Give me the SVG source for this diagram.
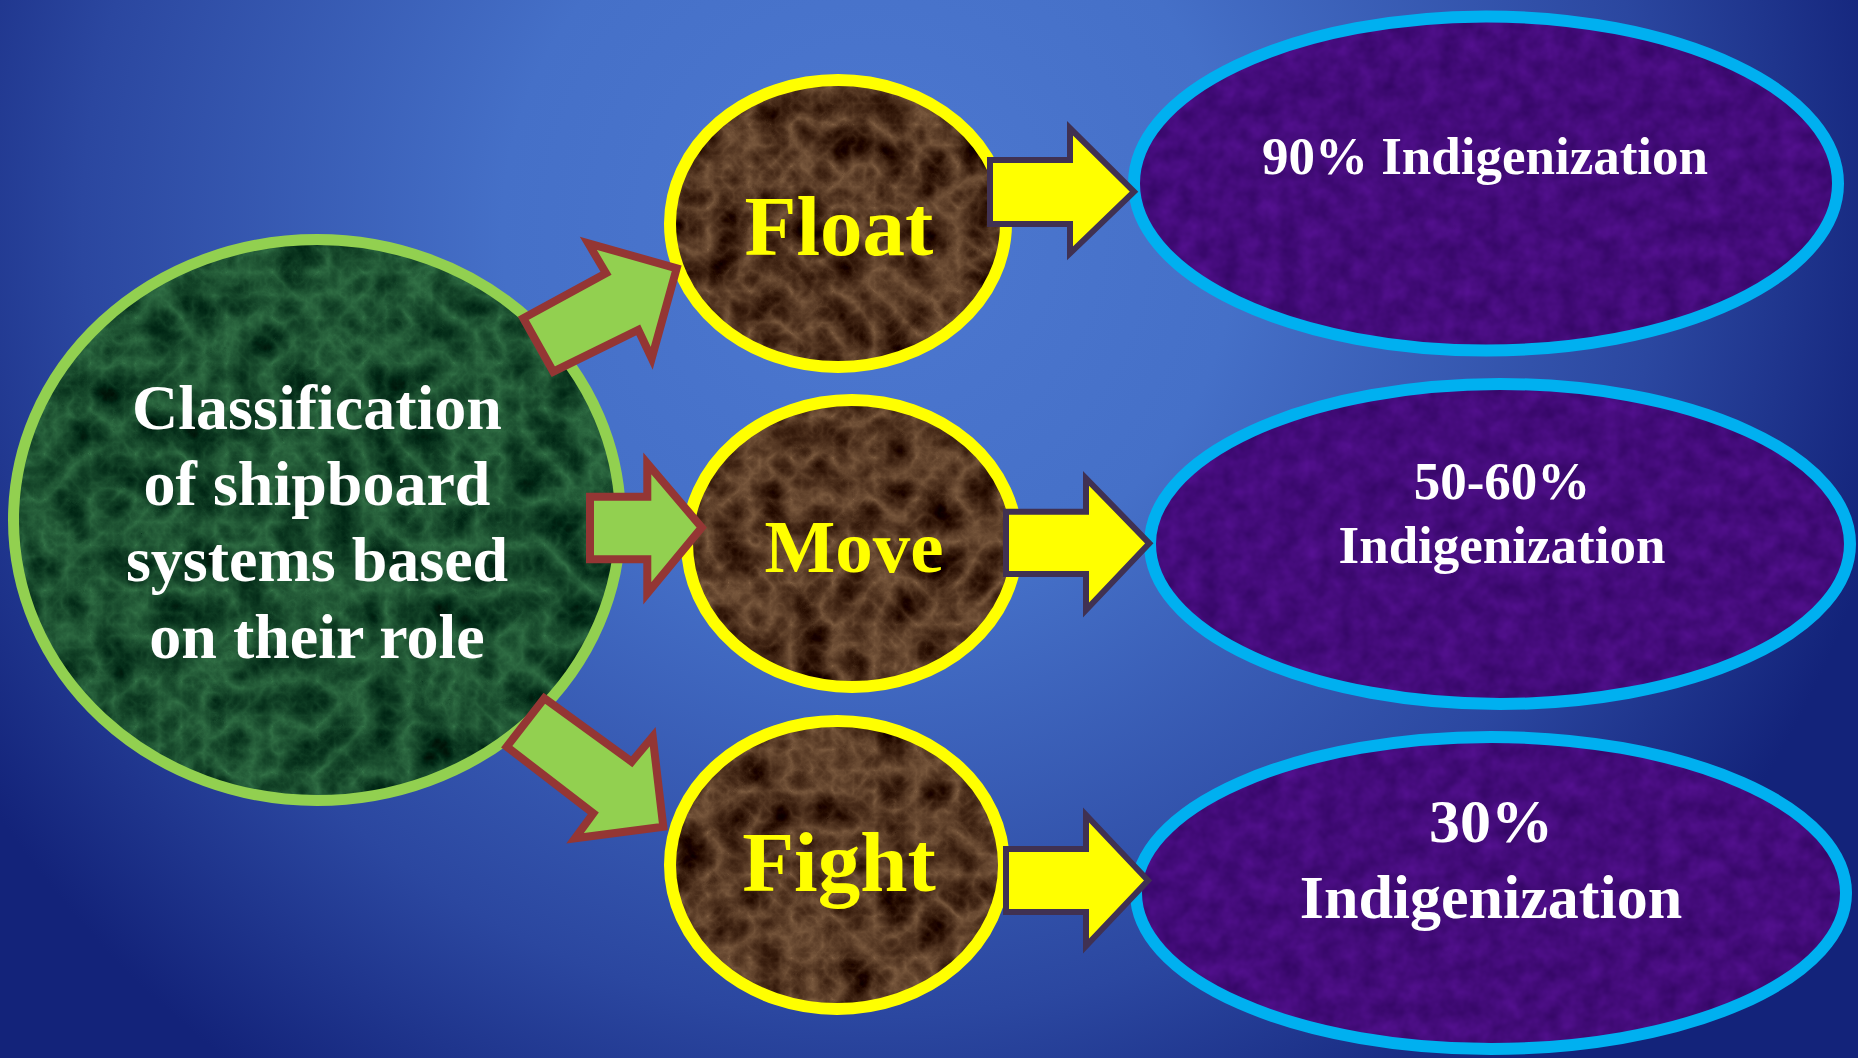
<svg xmlns="http://www.w3.org/2000/svg" width="1858" height="1058" viewBox="0 0 1858 1058">
<defs>
<radialGradient id="bg" gradientUnits="userSpaceOnUse" cx="870" cy="230" r="1050">
<stop offset="0" stop-color="#4D78D0"/>
<stop offset="0.35" stop-color="#4570C8"/>
<stop offset="0.75" stop-color="#2B47A0"/>
<stop offset="1" stop-color="#13237A"/>
</radialGradient>
<filter id="texGreen" x="0" y="0" width="1" height="1" color-interpolation-filters="sRGB">
<feTurbulence type="turbulence" baseFrequency="0.022" numOctaves="5" seed="3" result="n"/>
<feColorMatrix in="n" type="matrix" values="-0.3 0 0 0 0.2  -0.45 0 0 0 0.45  -0.3 0 0 0 0.28  0 0 0 0 1" result="c"/>
<feComposite in="c" in2="SourceGraphic" operator="in"/>
</filter>
<filter id="texBrown" x="0" y="0" width="1" height="1" color-interpolation-filters="sRGB">
<feTurbulence type="turbulence" baseFrequency="0.024" numOctaves="5" seed="7" result="n"/>
<feColorMatrix in="n" type="matrix" values="-0.55 0 0 0 0.5  -0.5 0 0 0 0.37  -0.4 0 0 0 0.26  0 0 0 0 1" result="c"/>
<feComposite in="c" in2="SourceGraphic" operator="in"/>
</filter>
<filter id="texPurple" x="0" y="0" width="1" height="1" color-interpolation-filters="sRGB">
<feTurbulence type="fractalNoise" baseFrequency="0.05" numOctaves="3" seed="11" result="n"/>
<feColorMatrix in="n" type="matrix" values="0.15 0 0 0 0.19  0.05 0 0 0 0.02  0.2 0 0 0 0.38  0 0 0 0 1" result="c"/>
<feComposite in="c" in2="SourceGraphic" operator="in"/>
</filter>
</defs>
<style>
.txt{font-family:"Liberation Serif","Times New Roman",serif;font-weight:bold;text-anchor:middle}
.white{fill:#FFFFFF}
.yel{fill:#FFFF00}
.gring{fill:none;stroke:#92D050;stroke-width:11}
.yring{fill:none;stroke:#FFFF00;stroke-width:12}
.bring{fill:none;stroke:#00B0F0;stroke-width:12}
.garrow{fill:#92D050;stroke:#943634;stroke-width:8;stroke-linejoin:miter}
.yarrow{fill:#FFFF00;stroke:#403152;stroke-width:6;stroke-linejoin:miter}
</style>
<rect x="0" y="0" width="1858" height="1058" fill="url(#bg)"/>

<g id="node-classification">
<ellipse cx="317" cy="520" rx="303.5" ry="280.5" fill="#0F4A26" filter="url(#texGreen)"/>
<ellipse class="gring" cx="317" cy="520" rx="303.5" ry="280.5"/>
<text class="txt white" font-size="64" x="317" y="429">Classification</text>
<text class="txt white" font-size="64" x="317" y="505">of shipboard</text>
<text class="txt white" font-size="64" x="317" y="581">systems based</text>
<text class="txt white" font-size="64" x="317" y="658">on their role</text>
</g>

<g id="node-float">
<ellipse cx="838" cy="223.5" rx="168" ry="143.5" fill="#3A2414" filter="url(#texBrown)"/>
<ellipse class="yring" cx="838" cy="223.5" rx="168" ry="143.5"/>
<text class="txt yel" font-size="85" x="839" y="255">Float</text>
</g>

<g id="node-move">
<ellipse cx="852" cy="543.5" rx="165" ry="143.5" fill="#3A2414" filter="url(#texBrown)"/>
<ellipse class="yring" cx="852" cy="543.5" rx="165" ry="143.5"/>
<text class="txt yel" font-size="75" x="854" y="572">Move</text>
</g>

<g id="node-fight">
<ellipse cx="837" cy="865" rx="167" ry="144" fill="#3A2414" filter="url(#texBrown)"/>
<ellipse class="yring" cx="837" cy="865" rx="167" ry="144"/>
<text class="txt yel" font-size="85" x="839" y="891">Fight</text>
</g>

<g id="node-90">
<ellipse cx="1486" cy="183.5" rx="352" ry="167" fill="#45108A" filter="url(#texPurple)"/>
<ellipse class="bring" cx="1486" cy="183.5" rx="352" ry="167"/>
<text class="txt white" font-size="53" x="1485" y="174">90% Indigenization</text>
</g>

<g id="node-50-60">
<ellipse cx="1500" cy="544" rx="350" ry="160" fill="#45108A" filter="url(#texPurple)"/>
<ellipse class="bring" cx="1500" cy="544" rx="350" ry="160"/>
<text class="txt white" font-size="53" x="1502" y="499">50-60%</text>
<text class="txt white" font-size="53" x="1502" y="563">Indigenization</text>
</g>

<g id="node-30">
<ellipse cx="1491" cy="893" rx="355" ry="156" fill="#45108A" filter="url(#texPurple)"/>
<ellipse class="bring" cx="1491" cy="893" rx="355" ry="156"/>
<text class="txt white" font-size="62" x="1491" y="842">30%</text>
<text class="txt white" font-size="62" x="1491" y="918">Indigenization</text>
</g>

<g id="connectors">
<polygon class="garrow" points="523.3,318.3 606,273.3 588.3,243.3 676.7,268.3 651.7,358.3 638.3,330 553.3,371.7"/>
<polygon class="garrow" points="590,496.7 647.3,496.7 647.3,463.3 701.7,527.5 647.3,593.3 647.3,559.3 590,559.3"/>
<polygon class="garrow" points="544.3,698.3 631.7,761.7 652.7,736.7 663.3,826.7 575,838.3 593.3,813.3 506.7,746.7"/>
<polygon class="yarrow" points="990,160 1070,160 1070,128.3 1134,191.7 1070,253.3 1070,224 990,224"/>
<polygon class="yarrow" points="1006,511.7 1086,511.7 1086,478.3 1149.3,543.3 1086,610 1086,574 1006,574"/>
<polygon class="yarrow" points="1006,849 1086,849 1086,815 1148,880.5 1086,946 1086,912 1006,912"/>
</g>
</svg>
